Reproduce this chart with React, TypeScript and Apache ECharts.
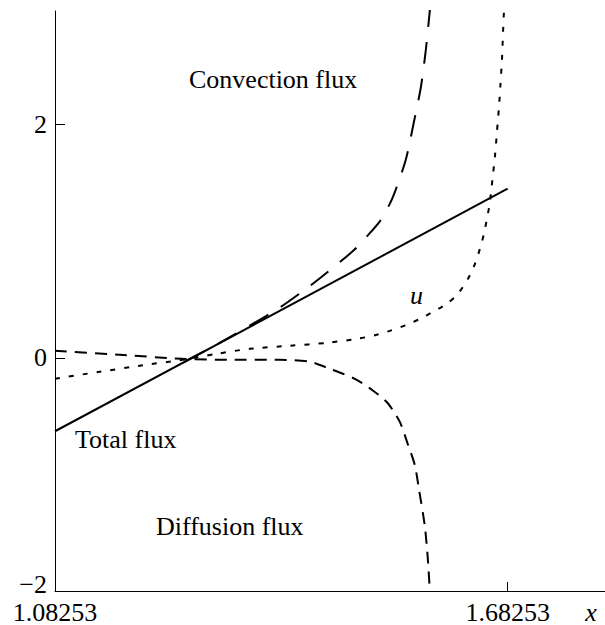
import React, { useEffect, useRef } from "react";
import * as echarts from "echarts";

// ---- data ----
const xMin = 1.08253;
const xMax = 1.8116;
const yMin = -2;
const yMax = 2.974;

const xTickValues = [1.68253];
const xLabelValues = [1.08253, 1.68253];
const yTickValues = [0, 2];
const yLabelValues = [0, 2];

const totalX = [1.08253, 1.68253];
const totalY = [-0.63, 1.45];

const convX = [1.2543, 1.3008, 1.3406, 1.3804, 1.4202, 1.46, 1.4799, 1.4958, 1.5131, 1.5263, 1.533, 1.5476, 1.5582, 1.5675, 1.5741, 1.5794, 1.5805];
const convY = [-0.034, 0.127, 0.275, 0.43, 0.615, 0.82, 0.93, 1.04, 1.17, 1.32, 1.42, 1.7, 2.02, 2.32, 2.64, 2.98, 3.05];

const diffX = [1.0825, 1.1681, 1.2517, 1.3141, 1.3804, 1.4202, 1.4467, 1.4799, 1.5038, 1.5237, 1.5396, 1.5502, 1.5595, 1.5648, 1.5727, 1.5767, 1.5794];
const diffY = [0.06, 0.026, -0.009, -0.017, -0.017, -0.034, -0.094, -0.18, -0.28, -0.39, -0.55, -0.74, -0.92, -1.12, -1.44, -1.72, -2.0];

const uX = [1.0825, 1.1416, 1.1946, 1.2517, 1.2968, 1.3406, 1.3936, 1.4427, 1.4825, 1.509, 1.5263, 1.5488, 1.5661, 1.5833, 1.6019, 1.6165, 1.6298, 1.6391, 1.6457, 1.651, 1.655, 1.659, 1.6624, 1.6657, 1.6683, 1.671, 1.673, 1.675, 1.6763, 1.6776];
const uY = [-0.179, -0.12, -0.068, -0.017, 0.034, 0.077, 0.103, 0.128, 0.162, 0.197, 0.231, 0.282, 0.333, 0.393, 0.462, 0.547, 0.675, 0.803, 0.932, 1.06, 1.188, 1.333, 1.53, 1.726, 1.932, 2.145, 2.342, 2.556, 2.769, 2.966];

const annotations = [
  { text: "Convection flux", italic: false },
  { text: "u", italic: true },
  { text: "Total flux", italic: false },
  { text: "Diffusion flux", italic: false },
];

const FONT = '"Liberation Serif", "Times New Roman", serif';

const pairs = (xs: number[], ys: number[]) => xs.map((x, i) => [x, ys[i]]);

export default function App() {
  const ref = useRef<HTMLDivElement>(null);
  useEffect(() => {
    if (!ref.current) return;
    const chart = echarts.init(ref.current, undefined, { renderer: "svg" });
    const annPos = [
      [189, 79],
      [410, 295],
      [75, 439],
      [156, 526],
    ];
    const lineBase = { type: "line", showSymbol: false, symbol: "none", silent: true };
    chart.setOption({
      animation: false,
      backgroundColor: "#fff",
      grid: { left: 55, right: 0, top: 11, bottom: 32 },
      xAxis: {
        type: "value",
        min: xMin,
        max: xMax,
        axisLine: { show: true, onZero: false, lineStyle: { color: "#000", width: 1 } },
        splitLine: { show: false },
        axisTick: { show: true, inside: true, length: 9, customValues: xTickValues, lineStyle: { color: "#000" } },
        axisLabel: {
          customValues: xLabelValues,
          formatter: (v: number) => v.toFixed(5),
          fontFamily: FONT,
          fontSize: 26,
          color: "#000",
          margin: 8,
        },
      },
      yAxis: {
        type: "value",
        min: yMin,
        max: yMax,
        axisLine: { show: true, onZero: false, lineStyle: { color: "#000", width: 1 } },
        splitLine: { show: false },
        axisTick: { show: true, inside: true, length: 10, customValues: yTickValues, lineStyle: { color: "#000" } },
        axisLabel: {
          customValues: yLabelValues,
          formatter: (v: number) => String(v),
          fontFamily: FONT,
          fontSize: 26,
          color: "#000",
          margin: 8,
        },
      },
      series: [
        { ...lineBase, name: "Total flux", data: pairs(totalX, totalY), lineStyle: { color: "#000", width: 2 } },
        { ...lineBase, name: "Convection flux", smooth: 0.25, data: pairs(convX, convY), lineStyle: { color: "#000", width: 2, type: [22, 15] } },
        { ...lineBase, name: "Diffusion flux", smooth: 0.25, data: pairs(diffX, diffY), lineStyle: { color: "#000", width: 2, type: [12, 8] } },
        { ...lineBase, name: "u", smooth: 0.25, data: pairs(uX, uY), lineStyle: { color: "#000", width: 2, type: [5, 9] } },
      ],
      graphic: [
        ...annotations.map((a, i) => ({
          type: "text",
          x: annPos[i][0],
          y: annPos[i][1],
          style: {
            text: a.text,
            fontFamily: FONT,
            fontSize: 26,
            fontStyle: a.italic ? "italic" : "normal",
            fill: "#000",
            verticalAlign: "middle",
            align: "left",
          },
        })),
        {
          type: "text",
          x: 47,
          y: 584,
          style: { text: "\u22122", fontFamily: FONT, fontSize: 26, fill: "#000", align: "right", verticalAlign: "middle" },
        },
        {
          type: "text",
          x: 591,
          y: 612,
          style: { text: "x", fontFamily: FONT, fontSize: 26, fontStyle: "italic", fill: "#000", align: "center", verticalAlign: "middle" },
        },
      ],
    });
    return () => chart.dispose();
  }, []);
  return <div ref={ref} style={{ position: "fixed", left: 0, top: 0, width: 605, height: 625 }} />;
}
